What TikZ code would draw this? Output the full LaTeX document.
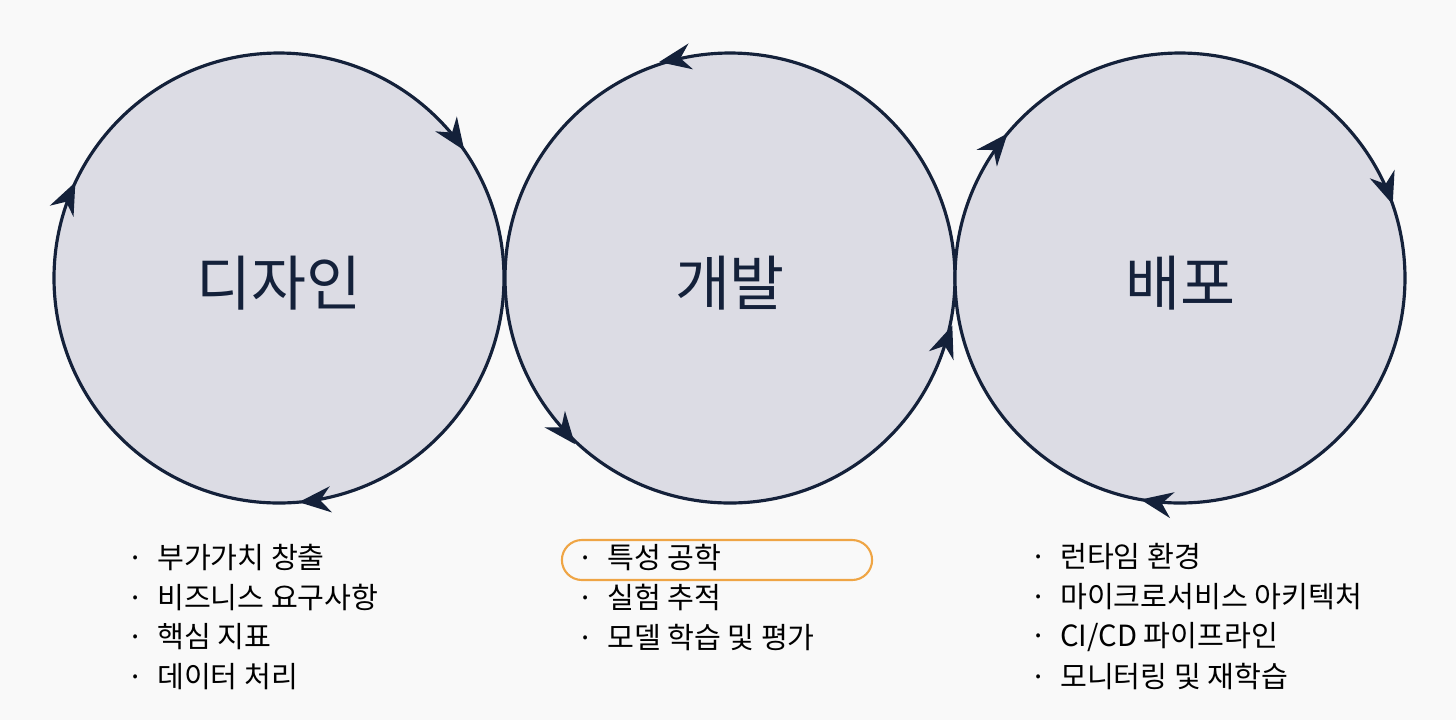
\documentclass[tikz,border=0pt]{standalone}
\usepackage{fontspec}
\setmainfont{Noto Sans CJK KR}
\usepackage{xcolor}
\usetikzlibrary{arrows.meta,decorations.markings}
\definecolor{navy}{HTML}{14213A}
\definecolor{disc}{HTML}{DCDCE4}
\definecolor{paper}{HTML}{F9F9F9}
\definecolor{hilite}{HTML}{EFA545}
\tikzset{
  cw/.style={postaction={decorate,decoration={markings,
      mark=at position #1 with {\arrow{Stealth[length=3.2mm,width=2.6mm,navy]}}}}},
  ccw/.style={postaction={decorate,decoration={markings,
      mark=at position #1 with {\arrow{Stealth[length=3.2mm,width=2.6mm,navy,reversed]}}}}},
  stage/.style={draw=navy,line width=0.9pt,fill=disc},
  item/.style={anchor=west,font=\fontsize{8.3}{10}\selectfont,text=black,inner sep=0pt}
}
\begin{document}
\begin{tikzpicture}[x=0.01cm,y=-0.01cm]
    \fill[paper] (0,0) rectangle (1456,720);
    \useasboundingbox (0,0) rectangle (1456,720);
    \begin{scope}[every node/.style={font=\fontsize{17}{19}\selectfont,text=navy}]
        \draw[stage,cw=0.904,cw=0.57,cw=0.236] (279,278) circle[radius=225];
        \draw[stage,ccw=0.722,ccw=0.392,ccw=0.056] (730,278) circle[radius=225];
        \draw[stage,cw=0.947,cw=0.611,cw=0.278] (1180,278) circle[radius=225];
        \node (design) at (279,283) {디자인};
        \node (dev) at (730,283) {개발};
        \node (deploy) at (1180,283) {배포};
    \end{scope}
    \node[draw=hilite,line width=0.6pt,rounded corners=2mm,minimum width=3.1cm,minimum height=0.4cm] (box) at (717,560) {};
    \begin{scope}[every node/.style={item}]
        \foreach \txt [count=\i] in {부가가치 창출,비즈니스 요구사항,핵심 지표,데이터 처리}
            \node (d\i) at (127,{517+40*\i}) {·\hspace{0.45em}\txt};
        \foreach \txt [count=\i] in {특성 공학,실험 추적,모델 학습 및 평가}
            \node (v\i) at (577,{517+40*\i}) {·\hspace{0.45em}\txt};
        \foreach \txt [count=\i] in {런타임 환경,마이크로서비스 아키텍처,CI/CD 파이프라인,모니터링 및 재학습}
            \node (p\i) at (1030,{517+40*\i}) {·\hspace{0.45em}\txt};
    \end{scope}
\end{tikzpicture}
\end{document}
